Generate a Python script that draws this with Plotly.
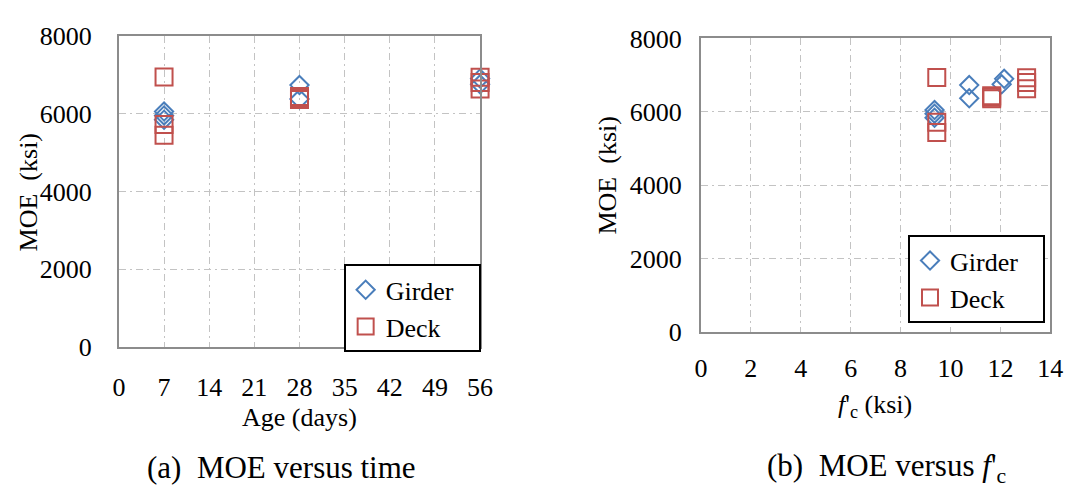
import plotly.graph_objects as go

# Measured modulus of elasticity (MOE, ksi) for girder and deck concrete
girder_age = [7, 7, 7, 28, 28, 56, 56]
girder_fc = [9.36, 9.36, 9.36, 10.75, 10.75, 12.15, 12.05]
girder_moe = [6050, 5950, 5840, 6730, 6370, 6900, 6750]

deck_age = [7, 7, 7, 28, 28, 28, 56, 56, 56]
deck_fc = [9.45, 9.45, 9.45, 11.65, 11.65, 11.65, 13.05, 13.05, 13.05]
deck_moe = [6940, 5720, 5440, 6440, 6400, 6360, 6930, 6800, 6630]

age_ticks = [0, 7, 14, 21, 28, 35, 42, 49, 56]
fc_ticks = [0, 2, 4, 6, 8, 10, 12, 14]
moe_ticks = [0, 2000, 4000, 6000, 8000]

FONT = "Liberation Serif"
BLUE = "#4a7ebb"
RED = "#c0504d"
GRID = "#c3c3c3"
FRAME = "#8c8c8c"
PAD = "\u00a0" * 3  # widens the legend box past the entry text

fig = go.Figure()


def add_series(x, y, name, symbol, color, size, xa, ya, legend):
    fig.add_trace(go.Scatter(
        x=x, y=y, mode="markers", name=name + PAD,
        marker=dict(symbol=symbol, size=size, color=color,
                    line=dict(color=color, width=2)),
        xaxis=xa, yaxis=ya, legend=legend, cliponaxis=False,
    ))


add_series(girder_age, girder_moe, "Girder", "diamond-open", BLUE, 14, "x", "y", "legend")
add_series(deck_age, deck_moe, "Deck", "square-open", RED, 17, "x", "y", "legend")
add_series(girder_fc, girder_moe, "Girder", "diamond-open", BLUE, 14, "x2", "y2", "legend2")
add_series(deck_fc, deck_moe, "Deck", "square-open", RED, 17, "x2", "y2", "legend2")

W, H = 1081, 493


def px_x(v):
    return v / W


def px_y(v):
    return 1 - v / H


axis_common = dict(
    showline=True, linecolor=FRAME, linewidth=2, mirror=True,
    showgrid=True, gridcolor=GRID, gridwidth=1.3, griddash="7px,4px,2px,4px",
    zeroline=False, ticks="", tickfont=dict(family=FONT, size=26, color="black"),
)

legend_common = dict(xanchor="left", yanchor="top", bordercolor="black",
                     borderwidth=2, bgcolor="white",
                     font=dict(family=FONT, size=26, color="black"), itemwidth=30)

fig.update_layout(
    width=W, height=H,
    margin=dict(l=0, r=0, t=0, b=0),
    paper_bgcolor="white", plot_bgcolor="white",
    font=dict(family=FONT, size=26, color="black"),
    xaxis=dict(domain=[px_x(114), px_x(482)], range=[0, 56], tickvals=age_ticks,
               anchor="y", ticklabelstandoff=16, **axis_common),
    yaxis=dict(domain=[px_y(354), px_y(23)], range=[0, 8000], tickvals=moe_ticks,
               anchor="x", ticklabelstandoff=20, **axis_common),
    xaxis2=dict(domain=[px_x(707), px_x(1063)], range=[0, 14], tickvals=fc_ticks,
                anchor="y2", ticklabelstandoff=12, **axis_common),
    yaxis2=dict(domain=[px_y(338), px_y(26)], range=[0, 8000], tickvals=moe_ticks,
                anchor="x2", ticklabelstandoff=12, **axis_common),
    legend=dict(x=px_x(343), y=px_y(266), **legend_common),
    legend2=dict(x=px_x(918), y=px_y(235), **legend_common),
)

annotations = [
    dict(text="MOE  (ksi)", x=px_x(22), y=px_y(190), textangle=-90),
    dict(text="MOE  (ksi)", x=px_x(612), y=px_y(172), textangle=-90),
    dict(text="Age (days)", x=px_x(298), y=px_y(429)),
    dict(text="<i>f</i>'<sub>c</sub> (ksi)", x=px_x(884), y=px_y(417)),
    dict(text="(a)  MOE versus time", x=px_x(280), y=px_y(482), font=dict(size=31)),
    dict(text="(b)  MOE versus <i>f</i>'<sub>c</sub>", x=px_x(896), y=px_y(482), font=dict(size=31)),
]
for a in annotations:
    fig.add_annotation(xref="paper", yref="paper", showarrow=False,
                       xanchor="center", yanchor="middle", **a)

fig.write_html("out.html")
